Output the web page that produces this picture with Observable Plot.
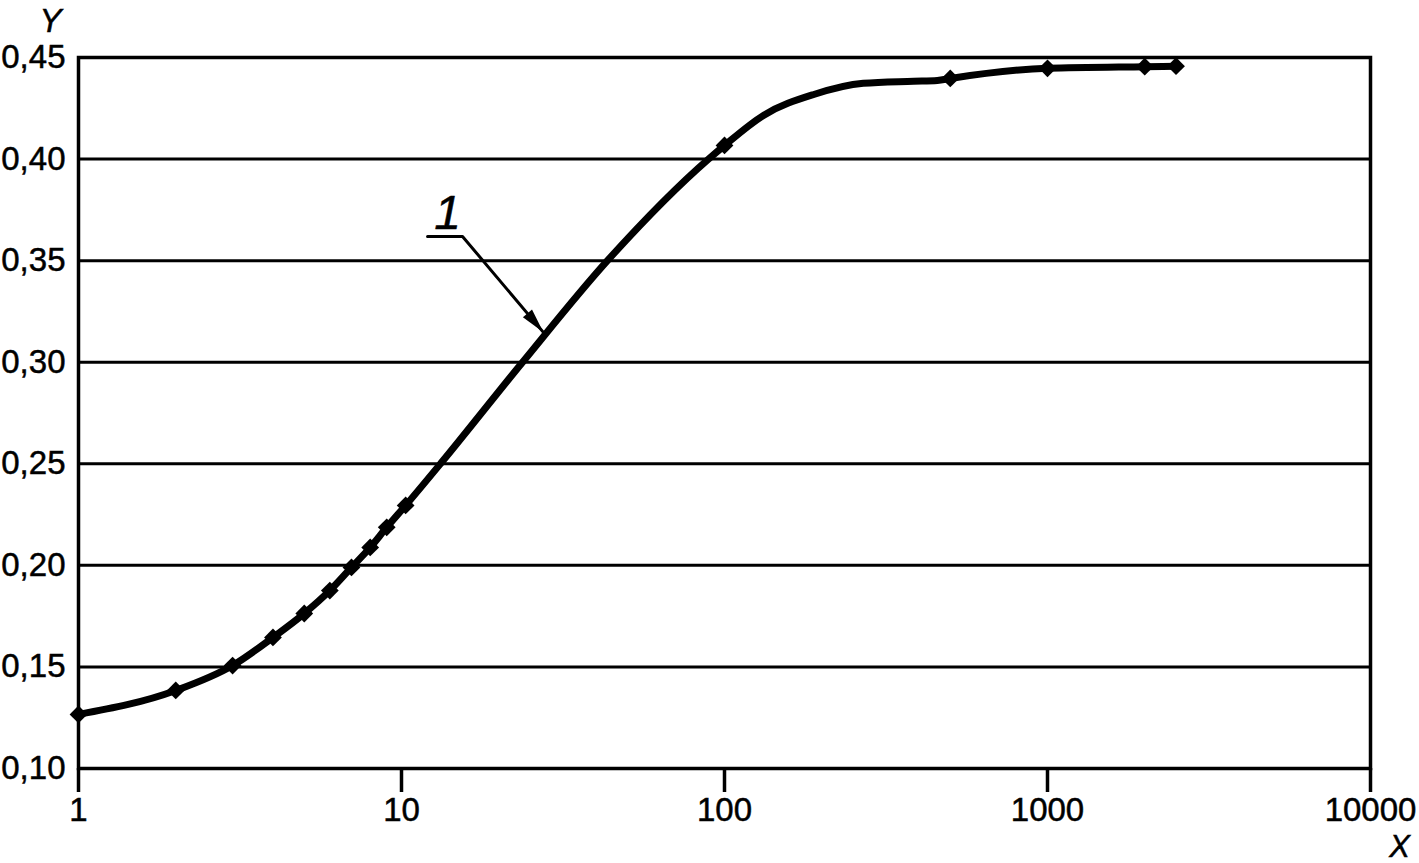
<!DOCTYPE html>
<html><head><meta charset="utf-8">
<script src="https://cdn.jsdelivr.net/npm/d3@7"></script>
<script src="https://cdn.jsdelivr.net/npm/@observablehq/plot@0.6"></script>
<style>body{margin:0;background:#fff} svg text{stroke:#000;stroke-width:0.5px}</style>
</head><body><div id="chart"></div>
<script>
// Measured points (diamond markers)
const markerX = [1, 2, 3, 4, 5, 6, 7, 8, 9, 10.3, 100, 500, 1000, 2000, 2500];
const markerY = [0.1266, 0.1384, 0.1507, 0.1645, 0.1763, 0.1876, 0.1990, 0.2088, 0.2187, 0.2295, 0.4067, 0.4397, 0.4447, 0.4455, 0.4457];
// Smooth curve 1
const curveX = [1, 2, 3, 4, 5, 6, 7, 8, 9, 10.3, 13.2, 23.7, 43.4, 89.2, 100, 132, 189, 269, 385, 456, 500, 1000, 2000, 2500];
const curveY = [0.1266, 0.1384, 0.1507, 0.1645, 0.1763, 0.1876, 0.1990, 0.2088, 0.2187, 0.2295, 0.25, 0.30, 0.35, 0.40, 0.4067, 0.4215, 0.4318, 0.4373, 0.4383, 0.4387, 0.4397, 0.4447, 0.4455, 0.4457];
// Axis ticks
const xTicks = [1, 10, 100, 1000, 10000];
const yTicks = [0.10, 0.15, 0.20, 0.25, 0.30, 0.35, 0.40, 0.45];
// Annotation "1" with leader line
const labelX = [13.9];
const labelY = [0.3654];
const labelText = ["1"];
const leaderX = [12.04, 15.45, 27.5];
const leaderY = [0.3619, 0.3619, 0.3147];

const curve = curveX.map((x, i) => ({x, y: curveY[i]}));
const markers = markerX.map((x, i) => ({x, y: markerY[i]}));
const leader = leaderX.map((x, i) => ({x, y: leaderY[i]}));
const labels = labelX.map((x, i) => ({x, y: labelY[i], t: labelText[i]}));
const tip = [leader[leader.length - 1]];

const arrowHead = {
  draw(ctx, size) {
    const s = Math.sqrt(size);
    ctx.moveTo(0, 0);
    ctx.lineTo(-s * 0.24, s);
    ctx.lineTo(s * 0.24, s);
    ctx.closePath();
  }
};

const fmt = d => d.toFixed(2).replace(".", ",");

const plot = Plot.plot({
  width: 1419,
  height: 863,
  marginLeft: 78,
  marginRight: 49,
  marginTop: 57,
  marginBottom: 95,
  style: {fontFamily: "'Liberation Sans', Arial, sans-serif", fontSize: "33px", background: "#fff", color: "#000"},
  x: {type: "log", domain: [1, 10000]},
  y: {domain: [0.10, 0.45]},
  marks: [
    Plot.ruleY(yTicks, {stroke: "#000", strokeWidth: 3}),
    Plot.frame({stroke: "#000", strokeWidth: 3.5}),
    Plot.axisX({ticks: xTicks, tickSize: 24, tickPadding: 5, strokeWidth: 3.5, tickFormat: d => String(d), label: null, fontSize: 33}),
    Plot.axisY({ticks: yTicks, tickSize: 0, tickPadding: 13, tickFormat: fmt, label: null, fontSize: 33}),
    Plot.line(leader, {x: "x", y: "y", stroke: "#000", strokeWidth: 3}),
    Plot.dot(tip, {x: "x", y: "y", symbol: arrowHead, r: 14, fill: "#000", stroke: "none", rotate: 140}),
    Plot.line(curve, {x: "x", y: "y", curve: "monotone-x", stroke: "#000", strokeWidth: 7}),
    Plot.dot(markers, {x: "x", y: "y", symbol: "diamond2", r: 8, fill: "#000", stroke: "none"}),
    Plot.text(labels, {x: "x", y: "y", text: "t", fontSize: 48, fontStyle: "italic", lineAnchor: "bottom", textAnchor: "middle", fill: "#000", stroke: "#000", strokeWidth: 1.6}),
    Plot.text(["Y"], {frameAnchor: "top-left", dx: -28, dy: -26, lineAnchor: "bottom", textAnchor: "middle", fontSize: 33, fontStyle: "italic", fill: "#000"}),
    Plot.text(["X"], {frameAnchor: "bottom-right", dx: 29, dy: 88, lineAnchor: "bottom", textAnchor: "middle", fontSize: 31, fontStyle: "italic", fill: "#000"})
  ]
});
document.getElementById("chart").append(plot);
</script>
</body></html>
